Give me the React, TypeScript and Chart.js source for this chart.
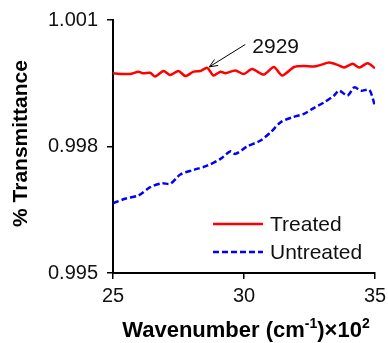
import React, { useEffect, useRef } from "react";
import { Chart, registerables } from "chart.js";

Chart.register(...registerables);

const treatedX = [25.0, 25.65, 25.97, 26.16, 26.42, 26.61, 26.93, 27.18, 27.5, 27.76, 28.08, 28.33, 28.6, 28.83, 29.1, 29.29, 29.67, 29.99, 30.31, 30.76, 31.14, 31.46, 31.91, 32.29, 32.67, 32.93, 33.25, 33.57, 33.82, 34.15, 34.4, 34.72, 35.0];
const treatedY = [0.999735, 0.999718, 0.999775, 0.999735, 0.99975, 0.99966, 0.99979, 0.999694, 0.99979, 0.999672, 0.999775, 0.99979, 0.999865, 0.999684, 0.999775, 0.999735, 0.999805, 0.999718, 0.999835, 0.999705, 0.999885, 0.999684, 0.999885, 0.99991, 0.999895, 0.999935, 0.99999, 0.999935, 0.999875, 0.99996, 0.999875, 0.999975, 0.999855];

const untreatedX = [25.0, 25.46, 25.97, 26.42, 26.87, 27.18, 27.57, 28.08, 28.59, 29.1, 29.48, 29.67, 30.12, 30.63, 31.02, 31.4, 31.85, 32.29, 32.61, 33.06, 33.44, 33.63, 33.95, 34.21, 34.46, 34.78, 34.92, 35.0];
const untreatedY = [0.996655, 0.99676, 0.99684, 0.997035, 0.99713, 0.997115, 0.997335, 0.997445, 0.997545, 0.997705, 0.997885, 0.997825, 0.998, 0.998142, 0.998338, 0.998575, 0.998693, 0.998775, 0.998893, 0.999048, 0.999207, 0.999325, 0.999207, 0.999403, 0.999325, 0.999342, 0.999128, 0.998945];

const seriesLabels = ["Treated", "Untreated"];
const xTicks = [25, 30, 35];
const yTicks = [0.995, 0.998, 1.001];
const peakLabel = "2929";
const peakPoint = { x: 28.6, y: 0.999865 };
const labelPoint = { x: 30.05, y: 1.00042 };

const FONT = "'Liberation Sans', Arial, sans-serif";

const overlay = {
  id: "overlay",
  afterDraw(chart: any) {
    const ctx = chart.ctx as CanvasRenderingContext2D;
    const ca = chart.chartArea;
    const xs = chart.scales.x;
    const ys = chart.scales.y;
    ctx.save();
    ctx.fillStyle = "#000";
    // y title
    ctx.save();
    ctx.translate(21, (ca.top + ca.bottom) / 2 - 3);
    ctx.rotate(-Math.PI / 2);
    ctx.font = `bold 21px ${FONT}`;
    ctx.textAlign = "center";
    ctx.textBaseline = "middle";
    ctx.fillText("% Transmittance", 0, 0);
    ctx.restore();
    // x title with superscripts
    const parts: [string, boolean][] = [["Wavenumber (cm", false], ["-1", true], [")×10", false], ["2", true]];
    const mainF = `bold 22px ${FONT}`;
    const supF = `bold 14px ${FONT}`;
    let total = 0;
    for (const [t, s] of parts) {
      ctx.font = s ? supF : mainF;
      total += ctx.measureText(t).width;
    }
    let cx = (ca.left + ca.right) / 2 + 2 - total / 2;
    const base = 337;
    ctx.textAlign = "left";
    ctx.textBaseline = "alphabetic";
    for (const [t, s] of parts) {
      ctx.font = s ? supF : mainF;
      ctx.fillText(t, cx, s ? base - 9 : base);
      cx += ctx.measureText(t).width;
    }
    // annotation arrow
    const tx = xs.getPixelForValue(peakPoint.x) + 2;
    const ty = ys.getPixelForValue(peakPoint.y) - 1;
    const fx = xs.getPixelForValue(labelPoint.x);
    const fy = ys.getPixelForValue(labelPoint.y);
    ctx.strokeStyle = "#000";
    ctx.lineWidth = 1;
    ctx.beginPath();
    ctx.moveTo(fx, fy);
    ctx.lineTo(tx, ty);
    const ang = Math.atan2(ty - fy, tx - fx);
    const hl = 9;
    ctx.moveTo(tx - hl * Math.cos(ang - 0.4), ty - hl * Math.sin(ang - 0.4));
    ctx.lineTo(tx, ty);
    ctx.lineTo(tx - hl * Math.cos(ang + 0.4), ty - hl * Math.sin(ang + 0.4));
    ctx.stroke();
    ctx.font = `21px ${FONT}`;
    ctx.textBaseline = "middle";
    ctx.fillStyle = "#111";
    ctx.fillText(peakLabel, fx + 7, fy + 3);
    // legend
    const lx0 = ca.right - 162;
    const lx1 = lx0 + 50;
    const rows = [ca.bottom - 49, ca.bottom - 21];
    chart.data.datasets.forEach((ds: any, i: number) => {
      ctx.save();
      ctx.strokeStyle = ds.borderColor;
      ctx.lineWidth = ds.borderWidth;
      ctx.setLineDash(ds.borderDash || []);
      ctx.beginPath();
      ctx.moveTo(lx0, rows[i]);
      ctx.lineTo(lx1, rows[i]);
      ctx.stroke();
      ctx.restore();
      ctx.fillStyle = "#111";
      ctx.font = `21px ${FONT}`;
      ctx.textBaseline = "middle";
      ctx.fillText(ds.label, lx1 + 7, rows[i] + 1);
    });
    ctx.restore();
  },
};

export default function App() {
  const ref = useRef<HTMLCanvasElement>(null);
  useEffect(() => {
    if (!ref.current) return;
    const chart = new Chart(ref.current, {
      type: "line",
      data: {
        datasets: [
          {
            label: seriesLabels[0],
            data: treatedX.map((x, i) => ({ x, y: treatedY[i] })),
            borderColor: "#ff0000",
            borderWidth: 2.5,
            pointRadius: 0,
            tension: 0.25,
            fill: false,
          },
          {
            label: seriesLabels[1],
            data: untreatedX.map((x, i) => ({ x, y: untreatedY[i] })),
            borderColor: "#0000ff",
            borderWidth: 2.5,
            borderDash: [6, 3],
            pointRadius: 0,
            tension: 0.3,
            fill: false,
          },
        ],
      },
      options: {
        animation: false,
        responsive: false,
        maintainAspectRatio: false,
        layout: { padding: { left: 0, right: 13, top: 20, bottom: 0 } },
        plugins: { legend: { display: false }, tooltip: { enabled: false } },
        scales: {
          x: {
            type: "linear",
            min: 25,
            max: 35,
            afterBuildTicks: (s: any) => {
              s.ticks = xTicks.map((v) => ({ value: v }));
            },
            afterFit: (s: any) => {
              s.height = 70;
              s.paddingLeft = 0;
              s.paddingRight = 0;
            },
            border: { display: true, color: "#000", width: 2 },
            grid: { display: true, drawOnChartArea: false, drawTicks: true, tickLength: 6, color: "#000", lineWidth: 1.5 },
            ticks: { color: "#111", font: { family: FONT, size: 20 }, padding: 5, maxRotation: 0, callback: (v: any) => String(v) },
          },
          y: {
            type: "linear",
            min: 0.995,
            max: 1.001,
            afterBuildTicks: (s: any) => {
              s.ticks = yTicks.map((v) => ({ value: v }));
            },
            afterFit: (s: any) => {
              s.width = 113;
              s.paddingTop = 0;
              s.paddingBottom = 0;
            },
            border: { display: true, color: "#000", width: 2 },
            grid: { display: true, drawOnChartArea: false, drawTicks: true, tickLength: 6, color: "#000", lineWidth: 1.5 },
            ticks: { color: "#111", font: { family: FONT, size: 20 }, padding: 9, callback: (v: any) => Number(v).toFixed(3) },
          },
        },
      },
      plugins: [overlay],
    } as any);
    return () => chart.destroy();
  }, []);
  return (
    <div style={{ position: "fixed", left: 0, top: 0, width: 388, height: 343, background: "#fff" }}>
      <canvas ref={ref} width={388} height={343} style={{ width: 388, height: 343 }} />
    </div>
  );
}
